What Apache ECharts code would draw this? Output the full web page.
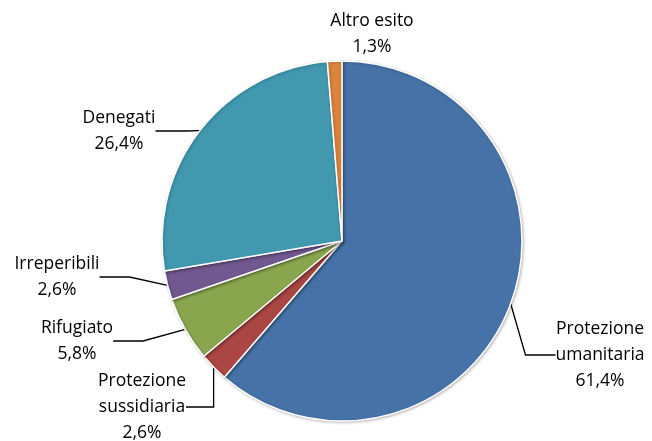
<!DOCTYPE html>
<html>
<head>
<meta charset="utf-8">
<script src="https://cdn.jsdelivr.net/npm/echarts@6/dist/echarts.min.js"></script>
<style>
  html, body { margin: 0; padding: 0; background: #fff; }
  #chart { width: 652px; height: 441px; }
</style>
</head>
<body>
<div id="chart"></div>
<script>
var categories = ["Protezione\numanitaria", "Protezione\nsussidiaria", "Rifugiato", "Irreperibili", "Denegati", "Altro esito"];
var values = [61.4, 2.6, 5.8, 2.6, 26.4, 1.3];
var colors = ["#4672a7", "#aa4643", "#89a54e", "#71588f", "#4198af", "#db843d"];
// label anchor positions (text block centres)
var labelPos = [[600, 355], [142, 407], [77, 341], [57, 277], [119, 131], [372, 34]];

var chart = echarts.init(document.getElementById("chart"));
var data = [];
for (var i = 0; i < values.length; i++) {
  var item = { name: categories[i], value: values[i], itemStyle: { color: colors[i] } };
  if (i === 5) item.labelLine = { show: false };
  data.push(item);
}
chart.setOption({
  animation: false,
  series: [{
    type: "pie",
    center: [342, 241],
    radius: 180,
    startAngle: 90,
    clockwise: true,
    data: data,
    itemStyle: {
      borderColor: "#fff",
      borderWidth: 1.5,
      shadowColor: "rgba(0,0,0,0.25)",
      shadowBlur: 3,
      shadowOffsetX: 1,
      shadowOffsetY: 1
    },
    label: {
      show: true,
      position: "outside",
      color: "#000",
      fontFamily: "Open Sans",
      fontSize: 17.5,
      lineHeight: 26,
      align: "center",
      overflow: "none",
      formatter: function (p) {
        return p.name + "\n" + p.value.toFixed(1).replace(".", ",") + "%";
      }
    },
    labelLine: {
      show: true,
      lineStyle: { color: "#000", width: 1.3 }
    },
    labelLayout: function (p) {
      var pos = labelPos[p.dataIndex];
      return { x: pos[0], y: pos[1], align: "center", verticalAlign: "middle" };
    }
  }]
});
</script>
</body>
</html>
